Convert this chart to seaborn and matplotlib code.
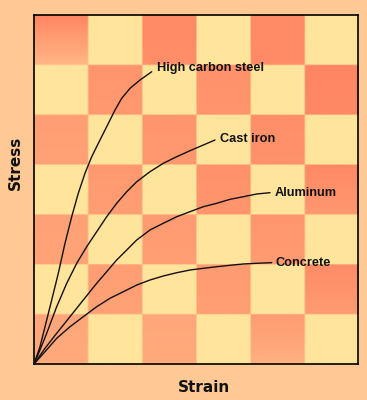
import numpy as np
import pandas as pd
import matplotlib
matplotlib.use("Agg")
import matplotlib.pyplot as plt
from matplotlib.colors import to_rgb
import seaborn as sns

# ---- data (strain in grid units 0-6, stress in grid units 0-7) ----
materials = ["High carbon steel", "Cast iron", "Aluminum", "Concrete"]

steel_strain = [0, 0.111, 0.204, 0.328, 0.450, 0.574, 0.698, 0.820, 0.944, 1.069,
                1.191, 1.346, 1.500, 1.624, 1.778, 1.963, 2.180]
steel_stress = [0, 0.347, 0.748, 1.284, 1.819, 2.421, 2.954, 3.424, 3.825, 4.158,
                4.426, 4.759, 5.094, 5.329, 5.529, 5.696, 5.862]

iron_strain = [0, 0.111, 0.235, 0.420, 0.606, 0.791, 0.976, 1.161, 1.346, 1.531,
               1.717, 1.902, 2.148, 2.394, 2.643, 2.889, 3.135, 3.352]
iron_stress = [0, 0.281, 0.616, 1.149, 1.619, 2.020, 2.353, 2.653, 2.954, 3.223,
               3.456, 3.656, 3.857, 4.025, 4.158, 4.278, 4.392, 4.493]

alu_strain = [0, 0.204, 0.420, 0.667, 0.913, 1.161, 1.346, 1.531, 1.717, 1.902,
              2.148, 2.394, 2.643, 2.889, 3.135, 3.383, 3.630, 3.876, 4.124, 4.370]
alu_stress = [0, 0.315, 0.616, 0.949, 1.284, 1.619, 1.851, 2.086, 2.286, 2.487,
              2.688, 2.822, 2.954, 3.055, 3.155, 3.223, 3.303, 3.355, 3.410, 3.436]

conc_strain = [0, 0.204, 0.420, 0.667, 0.913, 1.161, 1.407, 1.654, 1.902, 2.148,
               2.394, 2.643, 2.889, 3.135, 3.383, 3.630, 3.876, 4.124, 4.402]
conc_stress = [0, 0.247, 0.515, 0.748, 0.949, 1.149, 1.318, 1.450, 1.584, 1.685,
               1.765, 1.831, 1.885, 1.919, 1.951, 1.980, 2.006, 2.020, 2.032]

label_x = [2.272, 3.444, 4.463, 4.481]
label_y = [5.93, 4.513, 3.424, 2.032]

n_cols, n_rows = 6, 7

# checkerboard shading (0 = yellow cell, otherwise orange darkness), top row first
cell_top = [
    [1.00, 0, 0.95, 0, 0.95, 0],
    [0, 0.75, 0, 0.80, 0, 1.00],
    [0.60, 0, 0.75, 0, 0.85, 0],
    [0, 0.70, 0, 0.80, 0, 0.95],
    [0.55, 0, 0.65, 0, 0.75, 0],
    [0, 0.60, 0, 0.65, 0, 0.90],
    [0.45, 0, 0.45, 0, 0.65, 0],
]
cell_bottom = [
    [0.20, 0, 0.85, 0, 0.90, 0],
    [0, 0.70, 0, 0.75, 0, 0.95],
    [0.55, 0, 0.70, 0, 0.80, 0],
    [0, 0.60, 0, 0.75, 0, 0.70],
    [0.50, 0, 0.60, 0, 0.65, 0],
    [0, 0.55, 0, 0.60, 0, 0.65],
    [0.40, 0, 0.40, 0, 0.30, 0],
]

# ---- build frame ----
frames = []
for name, xs, ys in zip(materials,
                        [steel_strain, iron_strain, alu_strain, conc_strain],
                        [steel_stress, iron_stress, alu_stress, conc_stress]):
    frames.append(pd.DataFrame({"material": name, "strain": xs, "stress": ys}))
df = pd.concat(frames, ignore_index=True)

bg = "#FFC995"
yellow = np.array(to_rgb("#FFE49C"))
light_or = np.array(to_rgb("#FFC28D"))
dark_or = np.array(to_rgb("#FF8663"))

sns.set_theme(style="white")
plt.rcParams["font.family"] = ["Liberation Sans", "DejaVu Sans"]

fig = plt.figure(figsize=(3.67, 4.0), dpi=100, facecolor=bg)
ax = fig.add_axes([34 / 367, 1 - 364 / 400, 324 / 367, 349 / 400])

# checkerboard image
sub = 30
img = np.zeros((n_rows * sub, n_cols * sub, 3))
for r in range(n_rows):
    for c in range(n_cols):
        t, b = cell_top[r][c], cell_bottom[r][c]
        if t == 0 and b == 0:
            img[r * sub:(r + 1) * sub, c * sub:(c + 1) * sub] = yellow
        else:
            for k in range(sub):
                s = t + (b - t) * k / (sub - 1)
                img[r * sub + k, c * sub:(c + 1) * sub] = light_or + (dark_or - light_or) * s
ax.imshow(img, extent=(0, n_cols, 0, n_rows), aspect="auto", interpolation="bilinear", zorder=0)

sns.lineplot(data=df, x="strain", y="stress", hue="material", units="material",
             estimator=None, sort=False, palette=["#141010"] * 4, legend=False,
             linewidth=1.0, ax=ax, zorder=3)

for name, lx, ly in zip(materials, label_x, label_y):
    ax.text(lx, ly, name, ha="left", va="center", fontsize=9.2, fontweight="bold",
            color="#111111", zorder=4)

ax.set_xlim(0, n_cols)
ax.set_ylim(0, n_rows)
ax.set_xticks([])
ax.set_yticks([])
ax.set_xlabel("")
ax.set_ylabel("")
for sp in ax.spines.values():
    sp.set_visible(True)
    sp.set_color("black")
    sp.set_linewidth(1.2)

fig.text(204 / 367, 1 - 388 / 400, "Strain", ha="center", va="center",
         fontsize=11, fontweight="bold", family="DejaVu Sans", color="#111111")
fig.text(15 / 367, 1 - 163 / 400, "Stress", ha="center", va="center", rotation=90,
         fontsize=11, fontweight="bold", family="DejaVu Sans", color="#111111")

fig.savefig("out.png", dpi=100, facecolor=bg)
